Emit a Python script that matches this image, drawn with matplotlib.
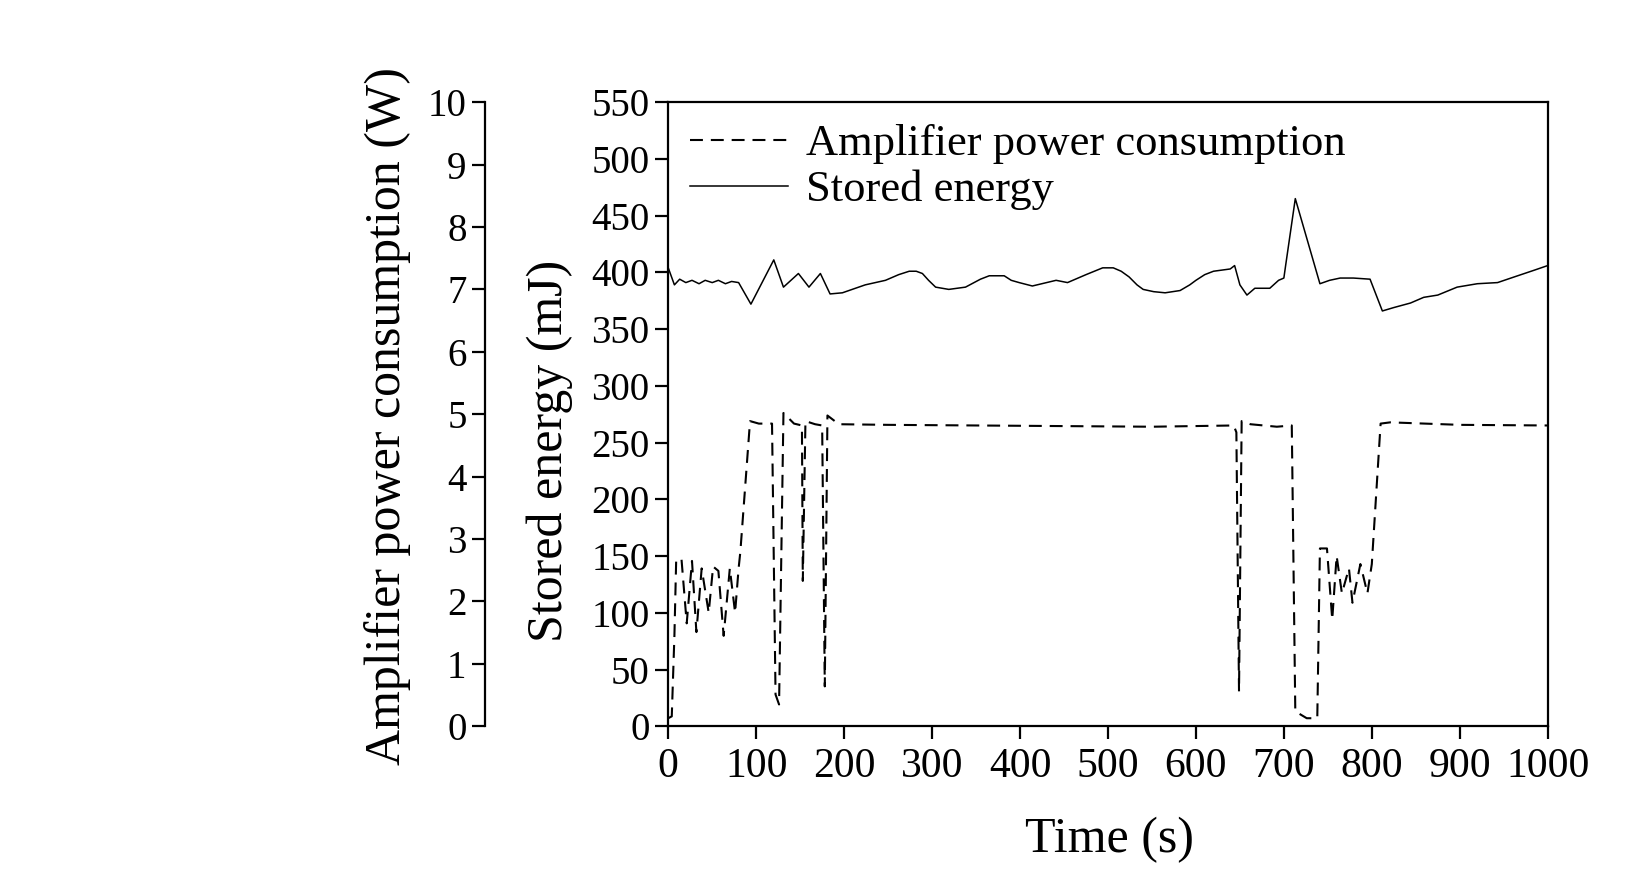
import numpy as np
import matplotlib
matplotlib.use("Agg")
import matplotlib.pyplot as plt

plt.rcParams['font.family'] = ['Liberation Serif', 'DejaVu Serif']

# Stored energy (mJ) vs time (s)
time_e = [0, 7, 13, 20, 27, 35, 42, 50, 57, 65, 72, 80,
          94, 120, 131, 148, 160, 173, 184, 198,
          224, 247, 262, 274, 282, 289, 296, 304, 319, 338,
          355, 365, 382, 390, 399, 414, 441, 454, 475, 494,
          506, 515, 524, 533, 540, 552, 565, 582, 593, 600, 610, 620, 639,
          644, 650, 658, 667, 684, 694, 700, 702, 713,
          741, 752, 764, 779, 798, 812, 825, 844, 859, 875,
          897, 920, 943, 962, 985, 1000]
energy = [404, 389, 394, 391, 393, 390, 393, 391, 393, 390, 392, 391,
          372, 411, 387, 399, 387, 399, 381, 382,
          389, 393, 398, 401, 401, 399, 393, 387, 385, 387,
          394, 397, 397, 393, 391, 388, 393, 391, 398, 404,
          404, 401, 396, 389, 385, 383, 382, 384, 389, 393, 398, 401, 403,
          406, 389, 380, 386, 386, 393, 395, 406, 465,
          390, 393, 395, 395, 394, 366, 369, 373, 378, 380,
          387, 390, 391, 396, 402, 406]

# Amplifier power consumption (W) vs time (s)
time_p = [0, 4, 7, 9, 15, 21, 27, 32, 38, 46, 51, 57, 63, 70, 76, 80, 82,
          93, 103, 118, 122, 126, 131, 143, 152, 153, 156, 167, 175, 178, 181,
          194, 250, 350, 450, 550, 643, 646, 649, 652, 662, 692, 709,
          713, 726, 738, 741, 749, 755, 760, 766, 774, 778, 787, 795, 800,
          810, 821, 900, 1000]
power = [0.13, 0.16, 1.45, 2.65, 2.69, 1.65, 2.65, 1.51, 2.53, 1.82, 2.56, 2.49,
         1.45, 2.53, 1.82, 2.53, 2.80,
         4.89, 4.85, 4.85, 0.51, 0.35, 5.02, 4.85, 4.82, 2.33, 4.89, 4.84, 4.82,
         0.64, 4.98,
         4.84, 4.83, 4.82, 4.81, 4.80, 4.82, 4.71, 0.56, 4.89, 4.84, 4.80, 4.82,
         0.24, 0.13, 0.13, 2.85, 2.85, 1.71, 2.73, 2.13, 2.53, 1.98, 2.60, 2.13, 2.60,
         4.85, 4.87, 4.83, 4.82]

x_ticks = np.arange(0, 1001, 100)
e_ticks = np.arange(0, 551, 50)
p_ticks = np.arange(0, 11, 1)

fig = plt.figure(figsize=(16.5, 8.73), dpi=100)
ax = fig.add_axes([0.405, 0.168, 0.533, 0.715])

l1, = ax.plot(time_e, energy, color='k', lw=1.1, label='Stored energy')
ax.set_xlim(0, 1000)
ax.set_ylim(0, 550)
ax.set_xticks(x_ticks)
ax.set_yticks(e_ticks)
for s in ax.spines.values():
    s.set_linewidth(1.6)
ax.tick_params(axis='both', direction='out', length=9.5, width=1.6)
ax.tick_params(axis='x', labelsize=30, pad=6)
ax.tick_params(axis='y', labelsize=28, pad=4)
ax.set_xlabel('Time (s)', fontsize=36)
ax.xaxis.set_label_coords(0.502, -0.145)
ax.set_ylabel('Stored energy (mJ)', fontsize=36)
ax.yaxis.set_label_coords(-0.108, 0.442)

# second y axis (power), drawn on the far left
ax2 = ax.twinx()
l2, = ax2.plot(time_p, power, color='k', lw=1.5, ls='--', dashes=(6.2, 3.8),
               label='Amplifier power consumption')
ax2.set_ylim(0, 10)
ax2.set_yticks(p_ticks)
ax2.yaxis.set_ticks_position('left')
ax2.yaxis.set_label_position('left')
ax2.spines['left'].set_position(('axes', -0.208))
ax2.spines['left'].set_visible(True)
ax2.spines['left'].set_linewidth(1.6)
for k in ['right', 'top', 'bottom']:
    ax2.spines[k].set_visible(False)
ax2.tick_params(axis='y', direction='out', length=9.5, width=1.6, labelsize=28, pad=4)
ax2.set_ylabel('Amplifier power consumption (W)', fontsize=36)
ax2.yaxis.set_label_coords(-0.293, 0.497)

ax2.legend(handles=[l2, l1], loc='upper left', frameon=False, fontsize=32,
           handlelength=2.2, handletextpad=0.4, labelspacing=0.12,
           borderaxespad=0.2, borderpad=0.3)

plt.savefig('out.png', dpi=100)
